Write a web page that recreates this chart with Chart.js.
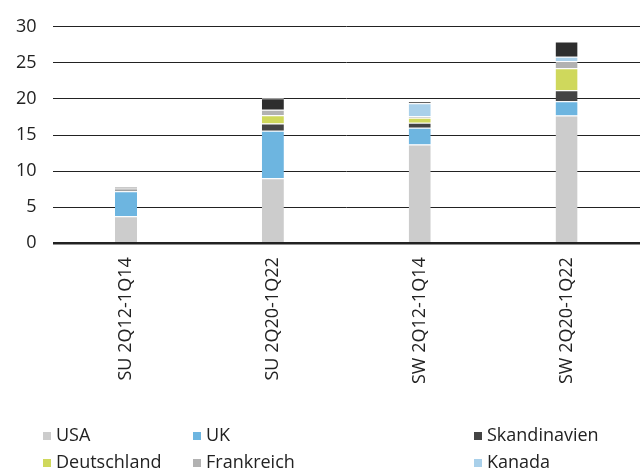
<!DOCTYPE html>
<html>
<head>
<meta charset="utf-8">
<script src="https://cdn.jsdelivr.net/npm/chart.js@4/dist/chart.umd.min.js"></script>
<style>
    body { margin: 0; background: #fff; }
    #wrap { position: relative; width: 640px; height: 473px; }
    #legend { position: absolute; left: 0; top: 421px; width: 640px; font-family: "Open Sans", sans-serif; font-size: 18px; color: #222; }
    .item { position: absolute; white-space: nowrap; line-height: 26px; }
    .box { display: inline-block; width: 8px; height: 8px; margin-right: 5px; vertical-align: 1px; }
</style>
</head>
<body>
<div id="wrap">
    <canvas id="stack_chart" width="640" height="473"></canvas>
    <div id="legend"></div>
</div>
<script>
const categories = ["SU 2Q12-1Q14", "SU 2Q20-1Q22", "SW 2Q12-1Q14", "SW 2Q20-1Q22"];
const usa = [3.75, 9.0, 13.7, 17.7];
const uk = [3.45, 6.6, 2.3, 2.0];
const skandinavien = [0.2, 1.0, 0.7, 1.5];
const deutschland = [0, 1.15, 0.7, 3.05];
const frankreich = [0.2, 0.75, 0.2, 1.0];
const kanada = [0, 0, 1.8, 0.6];
const other = [0.2, 1.6, 0.3, 2.1];
const yTicks = [0, 5, 10, 15, 20, 25, 30];

const seriesNames = ["USA", "UK", "Skandinavien", "Deutschland", "Frankreich", "Kanada", ""];
const seriesValues = [usa, uk, skandinavien, deutschland, frankreich, kanada, other];
const seriesColors = ["#cccccc", "#6db5e0", "#444444", "#cfd85c", "#b2b2b2", "#a9d0ea", "#2e2e2e"];

function onWindowLoadingChart() {
    const font = { family: "'Open Sans', sans-serif", size: 18 };
    const datasets = seriesValues.map(function (values, i) {
        return {
            label: seriesNames[i],
            data: values,
            backgroundColor: seriesColors[i],
            borderColor: "#ffffff",
            borderWidth: { top: 1, bottom: 0, left: 0, right: 0 },
            borderSkipped: false,
            categoryPercentage: 1.0,
            barPercentage: 0.15
        };
    });

    const ctx = document.getElementById('stack_chart').getContext('2d');
    const stackChart = new Chart(ctx, {
        type: 'bar',
        data: { labels: categories, datasets: datasets },
        options: {
            responsive: false,
            animation: false,
            layout: { padding: { top: 4, left: 0, right: 0, bottom: 83 } },
            plugins: { legend: { display: false }, tooltip: { enabled: false } },
            scales: {
                x: {
                    stacked: true,
                    grid: { display: false },
                    border: { display: false },
                    ticks: { font: font, color: "#222", maxRotation: 90, minRotation: 90, padding: 6 }
                },
                y: {
                    stacked: true,
                    min: 0,
                    max: 30,
                    afterBuildTicks: function (axis) {
                        axis.ticks = yTicks.map(function (v) { return { value: v }; });
                    },
                    border: { display: false },
                    grid: {
                        drawTicks: false,
                        color: "#222",
                        lineWidth: function (c) { return c.tick && c.tick.value === 0 ? 2.5 : 1; }
                    },
                    ticks: { font: font, color: "#222", padding: 16 }
                }
            }
        }
    });

    renderLegend(stackChart);
}

function renderLegend(chart) {
    const positions = [[43, 0], [193, 0], [474, 0], [43, 27], [193, 27], [474, 27]];
    const legend = document.getElementById('legend');
    chart.data.datasets.forEach(function (ds, i) {
        if (!ds.label) return;
        const item = document.createElement('div');
        item.className = 'item';
        item.style.left = positions[i][0] + 'px';
        item.style.top = positions[i][1] + 'px';
        item.innerHTML = '<span class="box" style="background:' + ds.backgroundColor + '"></span>' + ds.label;
        legend.appendChild(item);
    });
}

onWindowLoadingChart();
</script>
</body>
</html>
